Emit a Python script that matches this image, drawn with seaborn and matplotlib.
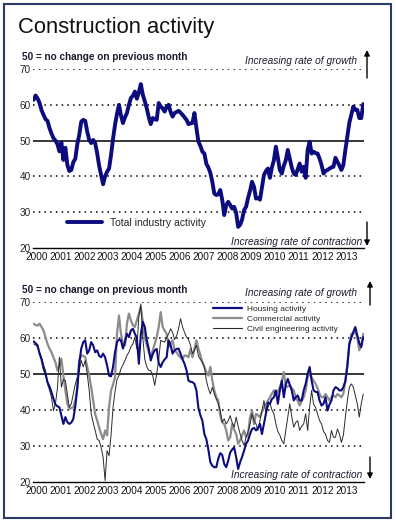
import numpy as np
import pandas as pd
import matplotlib
matplotlib.use("Agg")
import matplotlib.pyplot as plt
from matplotlib.lines import Line2D
from matplotlib.patches import Rectangle
import seaborn as sns

# monthly index readings, May 2000 - Mar 2014 (50 = no change)
total = [61.4, 62.6, 61.8, 60.5, 58.5, 57.2, 56.0, 55.5,
         53.5, 52.0, 50.7, 50.0, 49.0, 47.0, 49.5, 44.6, 48.0, 43.2, 41.5, 41.8,
         44.0, 44.9, 49.0, 51.6, 55.3, 55.8, 55.5, 52.5, 50.2, 49.3, 50.2, 49.3,
         46.5, 43.0, 40.4, 37.8, 40.0, 41.3, 42.2, 46.0, 50.5, 54.4, 57.5, 60.0,
         57.0, 54.9, 56.5, 57.7, 60.0, 61.9, 62.5, 63.7, 61.7, 63.5, 65.8, 62.8,
         61.0, 59.0, 56.5, 54.6, 56.3, 56.0, 55.8, 60.5, 59.5, 59.0, 58.1, 59.5,
         60.0, 58.0, 56.7, 57.7, 58.0, 58.3, 57.8, 57.2, 56.5, 55.8, 54.6, 54.8,
         54.9, 57.7, 53.5, 49.7, 48.5, 46.9, 46.4, 43.5, 42.5, 41.0, 38.5, 35.2,
         34.8, 35.0, 36.2, 33.4, 29.2, 32.0, 32.9, 32.0, 31.0, 31.5, 29.8, 25.9,
         26.5, 28.0, 30.6, 31.5, 34.0, 36.0, 38.5, 37.1, 33.8, 34.0, 33.5, 37.0,
         40.4, 41.5, 42.2, 39.6, 42.5, 44.5, 48.3, 45.2, 41.8, 40.8, 43.0, 44.5,
         47.4, 45.0, 42.5, 40.8, 40.4, 42.0, 43.6, 41.3, 42.7, 39.6, 47.4, 49.7,
         46.4, 46.9, 46.5, 46.4, 45.0, 43.2, 40.8, 41.5, 41.8, 42.2, 42.5, 42.7,
         45.2, 44.1, 43.0, 41.8, 43.2, 47.4, 51.1, 55.0, 57.2, 59.5, 58.6, 58.6,
         56.3, 56.3, 60.2]

housing = [59.0, 58.5, 57.9, 55.6, 54.0, 51.5, 50.0, 47.7,
           46.5, 44.9, 43.1, 41.5, 41.0, 40.7, 38.4, 36.1, 38.0, 36.6, 36.1, 36.5,
           37.5, 41.0, 46.0, 53.0, 57.0, 58.8, 59.3, 55.6, 56.5, 58.8, 57.9, 56.0,
           56.5, 55.0, 54.6, 55.6, 54.6, 52.3, 49.5, 49.3, 51.9, 56.0, 58.8, 59.5,
           59.3, 57.0, 58.8, 61.1, 60.2, 62.0, 62.5, 61.1, 60.0, 52.8, 61.0, 64.4,
           63.0, 59.3, 56.9, 53.7, 55.5, 56.5, 56.9, 53.0, 51.9, 53.2, 54.0, 54.6,
           59.3, 57.9, 55.6, 56.5, 56.9, 57.0, 55.6, 54.0, 52.8, 51.0, 48.1, 47.8,
           47.7, 47.2, 45.4, 40.5, 38.5, 37.0, 33.3, 31.9, 29.0, 25.5, 24.5, 24.1,
           24.1, 26.5, 28.0, 27.5, 25.0, 24.1, 25.9, 28.2, 29.0, 29.6, 26.9, 23.6,
           25.5, 27.0, 28.7, 30.6, 31.5, 33.3, 34.7, 35.0, 34.3, 35.0, 36.1, 33.3,
           36.1, 39.0, 42.0, 41.7, 43.0, 43.5, 45.4, 41.7, 45.4, 48.1, 43.5, 47.0,
           48.6, 47.0, 45.4, 42.6, 43.5, 44.0, 42.6, 42.6, 45.4, 47.2, 50.0, 51.9,
           48.1, 45.4, 45.0, 44.9, 42.6, 41.2, 41.7, 43.5, 39.8, 41.5, 42.6, 45.4,
           46.3, 46.0, 45.4, 45.4, 46.3, 48.0, 52.0, 58.3, 60.0, 61.6, 63.0, 60.6,
           58.5, 57.4, 60.2]

commercial = [63.9, 63.5, 63.4, 63.9, 63.0, 62.0, 60.2, 58.3,
              57.0, 56.0, 54.5, 53.2, 50.9, 52.3, 54.2, 49.5, 45.4, 41.7, 40.3, 40.5,
              40.7, 42.6, 46.0, 53.7, 55.1, 55.0, 54.6, 51.9, 49.5, 46.3, 42.6, 38.9,
              37.0, 35.0, 33.3, 31.9, 34.3, 32.9, 40.7, 45.4, 47.0, 49.1, 61.1, 66.2,
              61.1, 58.5, 57.9, 63.9, 66.7, 64.8, 63.5, 63.0, 64.8, 66.7, 68.5, 64.4,
              60.0, 57.9, 56.0, 54.6, 56.5, 58.3, 60.2, 63.0, 67.1, 63.0, 62.0, 61.1,
              57.4, 58.5, 59.3, 56.5, 56.0, 55.1, 54.5, 54.2, 55.1, 55.0, 54.6, 56.9,
              54.6, 57.0, 59.3, 57.0, 55.1, 53.2, 51.9, 50.5, 49.5, 51.9, 48.1, 45.4,
              43.5, 42.6, 38.4, 36.5, 36.1, 34.3, 31.5, 32.4, 36.1, 34.5, 33.3, 30.6,
              31.5, 33.0, 34.3, 32.4, 33.3, 38.0, 39.8, 36.1, 38.9, 38.5, 38.0, 39.5,
              40.7, 41.7, 42.5, 43.5, 44.5, 45.4, 44.4, 45.0, 46.3, 48.0, 50.5, 46.3,
              46.5, 46.8, 46.0, 45.4, 43.5, 42.5, 41.2, 42.5, 43.5, 45.4, 49.1, 50.0,
              49.0, 48.1, 47.2, 46.0, 44.4, 43.5, 43.5, 44.4, 43.5, 42.6, 43.5, 44.0,
              43.5, 44.4, 44.0, 43.5, 44.5, 48.1, 52.8, 58.3, 61.1, 61.1, 61.6, 60.2,
              56.5, 57.9, 61.1]

civil = [58.3, 58.0, 57.4, 56.0, 54.6, 52.5, 50.9, 47.2,
         45.5, 43.5, 39.8, 41.7, 46.0, 54.6, 46.3, 48.5, 48.1, 44.4, 40.7, 41.7,
         44.4, 47.2, 49.0, 50.9, 53.7, 51.9, 53.7, 50.0, 45.4, 38.9, 36.5, 34.3,
         31.9, 31.5, 29.6, 26.9, 20.4, 28.7, 27.3, 33.0, 40.7, 45.0, 48.5, 49.5,
         51.4, 52.5, 53.7, 55.1, 56.0, 57.5, 58.3, 60.2, 56.9, 66.0, 69.4, 60.0,
         54.0, 51.9, 51.0, 50.9, 49.5, 46.8, 50.0, 54.0, 59.3, 59.0, 58.8, 60.0,
         61.1, 62.5, 61.5, 59.5, 60.5, 62.5, 65.3, 63.0, 61.5, 60.2, 59.5, 58.0,
         55.6, 56.5, 57.9, 55.0, 54.0, 53.2, 51.9, 48.1, 46.0, 44.4, 46.3, 44.4,
         43.0, 41.7, 39.8, 36.6, 37.5, 36.1, 37.0, 38.4, 36.5, 35.2, 38.0, 35.5,
         33.3, 31.5, 30.1, 32.4, 34.0, 36.1, 38.9, 37.0, 36.1, 34.3, 37.0, 39.8,
         42.6, 39.0, 40.7, 42.0, 40.0, 38.9, 36.1, 34.0, 33.0, 31.5, 30.6, 34.3,
         38.0, 41.7, 38.0, 35.2, 36.5, 37.0, 34.3, 35.5, 36.1, 38.9, 34.3, 40.7,
         45.4, 41.5, 40.7, 38.9, 37.0, 36.1, 34.0, 33.3, 31.5, 31.0, 34.3, 32.4,
         32.4, 34.7, 33.3, 31.0, 33.0, 38.0, 42.6, 46.3, 47.2, 46.3, 44.0, 41.7,
         38.0, 41.7, 44.4]

years = list(range(2000, 2014))
grid_levels = [30, 40, 60, 70]

months = pd.date_range("2000-05-01", periods=len(total), freq="MS")
t = np.asarray(months.year + (months.month - 0.5) / 12)

navy = "#0c0c7e"
grey = "#8c8c8c"
dark = "#2a2a2a"

sns.set_style("white")
plt.rcParams['font.family'] = ['Liberation Sans', 'DejaVu Sans']

fig = plt.figure(figsize=(3.96, 5.25), dpi=100)
W, H = 396.0, 525.0
ax1 = fig.add_axes([33 / W, 1 - 248 / H, 331 / W, 179 / H])
ax2 = fig.add_axes([33 / W, 1 - 482 / H, 331 / W, 180.3 / H])


def style_panel(ax):
    ax.set_xlim(2000.35, 2014.24)
    ax.set_ylim(20, 70)
    for s in ['top', 'right', 'left']:
        ax.spines[s].set_visible(False)
    ax.spines['bottom'].set_linewidth(1.0)
    ax.spines['bottom'].set_color('k')
    for v in grid_levels:
        ax.axhline(v, color='k', lw=1.1, ls=(0, (1, 2.75)), zorder=1)
    ax.axhline(50, color='k', lw=1.1, zorder=1)
    ax.set_yticks([20, 30, 40, 50, 60, 70])
    ax.tick_params(axis='y', length=0, pad=1.5, labelsize=7.2, labelcolor='#222222')
    ax.set_xticks(range(2001, 2015))
    ax.set_xticklabels([])
    ax.set_xticks(np.arange(2000 + 5 / 12, 2014.24, 1 / 12), minor=True)
    ax.tick_params(axis='x', which='major', direction='out', length=10, width=0.8, color='k')
    ax.tick_params(axis='x', which='minor', direction='inout', length=4.5, width=0.7, color='k')
    for y in years:
        ax.annotate(str(y), xy=(y + 0.5, 0), xycoords=('data', 'axes fraction'),
                    xytext=(0, -6.5), textcoords='offset points',
                    ha='center', va='center', fontsize=7.2, color='#111111')
    ax.set_xlabel('')
    ax.set_ylabel('')


# top panel
sns.lineplot(x=t, y=total, ax=ax1, color=navy, lw=2.8, zorder=3)
style_panel(ax1)
ax1.legend([Line2D([], [], color=navy, lw=2.8)], ['Total industry activity'],
           loc='center left', bbox_to_anchor=((67 - 33) / 331, (248 - 223) / 179),
           frameon=False, fontsize=7.5, handlelength=3.4, handletextpad=0.7,
           borderpad=0, borderaxespad=0)

# bottom panel
sns.lineplot(x=t, y=commercial, ax=ax2, color=grey, lw=1.6, zorder=3)
sns.lineplot(x=t, y=civil, ax=ax2, color=dark, lw=0.7, zorder=4)
sns.lineplot(x=t, y=housing, ax=ax2, color=navy, lw=1.5, zorder=5)
style_panel(ax2)
ax2.legend([Line2D([], [], color=navy, lw=1.6),
            Line2D([], [], color=grey, lw=1.6),
            Line2D([], [], color=dark, lw=0.8)],
           ['Housing activity', 'Commercial activity', 'Civil engineering activity'],
           loc='upper left', bbox_to_anchor=((213 - 33) / 331, (482 - 305) / 180.3),
           frameon=False, fontsize=6, handlelength=3.5, handletextpad=0.6,
           labelspacing=0.25, borderpad=0, borderaxespad=0)

# titles and notes
fig.text(18 / W, 1 - 33 / H, 'Construction activity', fontsize=15.8,
         va='baseline', ha='left', color='#111111')

for ytxt, ygrow, ycon, xarr, arr_up, arr_dn in [
        (57, 61, 242, 367, (78, 50), (222, 246)),
        (290, 293, 475, 370, (305, 281), (457, 479))]:
    fig.text(22 / W, 1 - ytxt / H, '50 = no change on previous month', fontsize=7.2,
             fontweight='bold', va='center', ha='left', color='#1b1b2f')
    fig.text(357 / W, 1 - ygrow / H, 'Increasing rate of growth', fontsize=7.3,
             style='italic', va='center', ha='right', color='#1b1b2f')
    fig.text(362 / W, 1 - ycon / H, 'Increasing rate of contraction', fontsize=7.3,
             style='italic', va='center', ha='right', color='#1b1b2f')
    for y0, y1 in [arr_up, arr_dn]:
        ax1.annotate('', xy=(xarr, H - y1), xytext=(xarr, H - y0),
                     xycoords='figure pixels', textcoords='figure pixels',
                     arrowprops=dict(arrowstyle='-|>', color='k', lw=1.0,
                                     mutation_scale=8, shrinkA=0, shrinkB=0))

fig.patches.append(Rectangle((3.5 / W, 7 / H), 387 / W, 514 / H, transform=fig.transFigure,
                             fill=False, ec='#2b3a67', lw=1.5))

fig.savefig('out.png', dpi=100, facecolor='white')
